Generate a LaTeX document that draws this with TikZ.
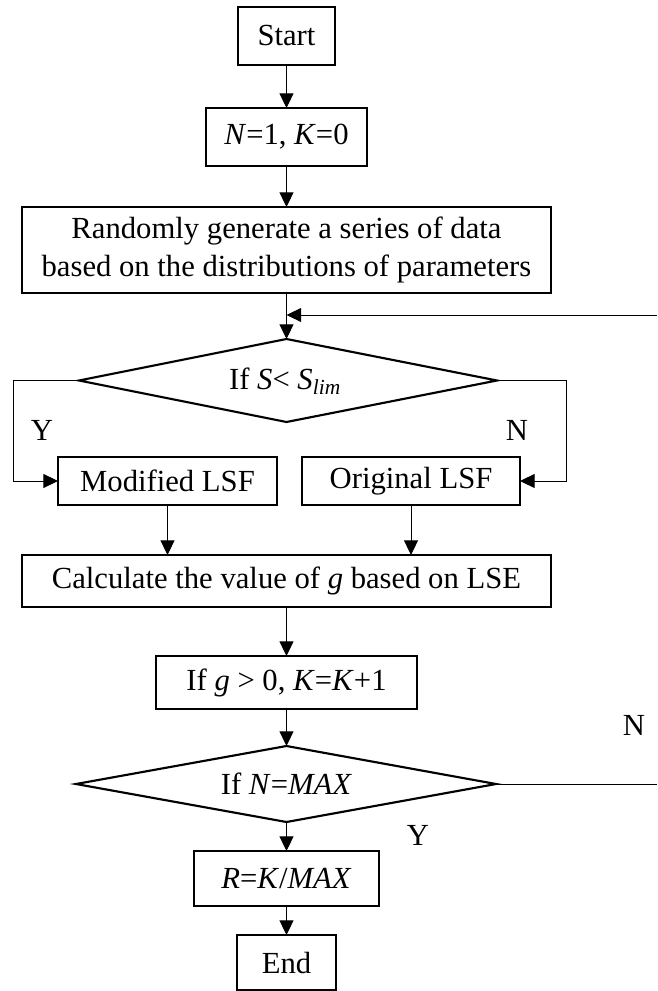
\documentclass[tikz,border=0pt]{standalone}
\usepackage{fontspec}
\setmainfont{Liberation Serif}
\usetikzlibrary{arrows.meta}
\begin{document}
\begin{tikzpicture}[x=0.75pt,y=-0.75pt,
  sz/.style 2 args={minimum width=#1*0.75pt,minimum height=#2*0.75pt},
  box/.style={draw,line width=1.6pt,inner sep=0pt,outer sep=0pt,align=center,font=\fontsize{23}{28}\selectfont},
  dline/.style={line width=1.6pt,line join=miter},
  conn/.style={line width=0.75pt},
  arr/.style={conn,-{Triangle[length=11pt,width=10.5pt]}},
  lbl/.style={font=\fontsize{23}{28}\selectfont,inner sep=0pt}]
\useasboundingbox (0,0) rectangle (657,991);
% nodes
\node[box,sz={97}{58}] (start) at (286.5,36) {Start};
\node[box,sz={161}{58}] (init) at (286.5,137) {\textit{N}=1, \textit{K}=0};
\node[box,sz={529}{86}] (rand) at (286.5,250) {Randomly generate a series of data\\based on the distributions of parameters};
\node[lbl] (d1) at (285,381) {If \textit{S}< \textit{S}\textsubscript{\textit{lim}}};
\node[box,sz={219}{48}] (mod) at (167.5,481) {Modified LSF};
\node[box,sz={218}{48}] (orig) at (411,481) {Original LSF};
\node[box,sz={529}{52}] (calc) at (286.5,581) {Calculate the value of \textit{g} based on LSE};
\node[box,sz={261}{53}] (gk) at (286.5,682.5) {If \textit{g} > 0, \textit{K}=\textit{K}+1};
\node[lbl] (d2) at (286.5,784) {If \textit{N}=\textit{MAX}};
\node[box,sz={185}{55}] (rk) at (286.5,878.5) {\textit{R}=\textit{K}/\textit{MAX}};
\node[box,sz={99}{55}] (end) at (286.5,962.5) {End};
% diamond corners
\coordinate (d1n) at (286.5,339);
\coordinate (d1s) at (286.5,422);
\coordinate (d1w) at (79,380.5);
\coordinate (d1e) at (497,380.5);
\coordinate (d2n) at (286.5,746);
\coordinate (d2s) at (286.5,822);
\coordinate (d2w) at (76,784);
\coordinate (d2e) at (496,784);
\draw[dline] (d1n) -- (d1e) -- (d1s) -- (d1w) -- cycle;
\draw[dline] (d2n) -- (d2e) -- (d2s) -- (d2w) -- cycle;
% labels
\node[lbl] (y1) at (42,430) {Y};
\node[lbl] (n1) at (517,430) {N};
\node[lbl] (n2) at (634,725) {N};
\node[lbl] (y2) at (418,835) {Y};
% free ends
\coordinate (fbin) at (657,315);
\coordinate (nout) at (657,784);
% connectors
\draw[arr] (start.south) -- (init.north);
\draw[arr] (init.south) -- (rand.north);
\draw[arr] (rand.south) -- (d1n);
\draw[arr] (fbin) -- (fbin -| d1n);
\draw[arr] (d1w) -- ++(-66,0) |- (mod.west);
\draw[arr] (d1e) -- ++(69,0) |- (orig.east);
\draw[arr] (mod.south) -- (mod.south |- calc.north);
\draw[arr] (orig.south) -- (orig.south |- calc.north);
\draw[arr] (calc.south) -- (gk.north);
\draw[arr] (gk.south) -- (d2n);
\draw[arr] (d2s) -- (rk.north);
\draw[arr] (rk.south) -- (end.north);
\draw[conn] (d2e) -- (nout);
\end{tikzpicture}
\end{document}
